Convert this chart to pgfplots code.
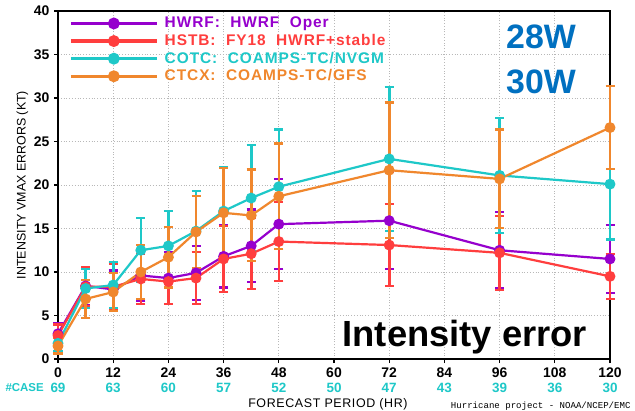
\documentclass[border=0pt]{standalone}
\usepackage{pgfplots}
\usepackage{pgfplotstable}
\pgfplotsset{compat=1.18}
\usetikzlibrary{arrows.meta}
\usepackage{fontspec}
\setmainfont{Liberation Sans}
\newfontfamily\monofont{Liberation Mono}

\definecolor{hwrf}{RGB}{150,0,205}
\definecolor{hstb}{RGB}{255,62,62}
\definecolor{cotc}{RGB}{30,200,200}
\definecolor{ctcx}{RGB}{240,135,45}
\definecolor{annot}{RGB}{0,112,192}

% forecast hour, mean error, error half-range
\pgfplotstableread{
x y e
0 2.9 1.3
6 8.4 2.3
12 8.0 2.3
18 9.6 3.0
24 9.3 3.1
30 9.9 3.2
36 11.8 3.7
42 13.0 4.3
48 15.5 5.3
72 15.9 5.7
96 12.5 4.5
120 11.5 4.0
}\hwrf
\pgfplotstableread{
x y e
0 2.7 1.4
6 8.3 2.4
12 8.3 2.8
18 9.2 3.0
24 8.9 2.7
30 9.3 3.1
36 11.5 3.9
42 12.1 4.2
48 13.5 4.7
72 13.1 4.8
96 12.2 4.4
120 9.5 2.7
}\hstb
\pgfplotstableread{
x y e
0 1.8 1.0
6 8.1 2.4
12 8.5 2.8
18 12.5 3.8
24 13.0 4.1
30 14.7 4.7
36 17.0 5.2
42 18.5 6.2
48 19.8 6.7
72 23.0 8.4
96 21.1 6.7
120 20.1 6.5
}\cotc
\pgfplotstableread{
x y e
0 1.5 1.0
6 6.9 2.3
12 7.7 2.3
18 10.0 3.2
24 11.7 3.6
30 14.6 4.3
36 16.8 5.3
42 16.5 5.4
48 18.7 6.2
72 21.7 7.9
96 20.7 5.8
120 26.6 4.9
}\ctcx

\pgfplotsset{
  % mean error: line with filled dots
  model/.style={color=#1, line width=2.2bp, mark=*, mark size=4.3bp,
    mark options={solid, fill=#1, draw=#1}},
  % spread: capped vertical bar from y-e to y+e
  spread/.style={color=#1, line width=2.6bp, mark=none, forget plot,
    {Bar[width=9bp, line width=2.2bp]}-{Bar[width=9bp, line width=2.2bp]},
    quiver={u=0, v=2*\thisrow{e}}},
}

\begin{document}
\begin{tikzpicture}
\path[use as bounding box, fill=white] (-58bp,-52bp) rectangle (577bp,359bp);
\begin{axis}[
  at={(0,0)}, anchor=south west,
  scale only axis, width=552bp, height=348bp,
  xmin=0, xmax=120, ymin=0, ymax=40,
  xtick={0,12,...,120}, ytick={0,5,...,40},
  clip=false,
  axis line style={black, line width=1.5bp},
  tick align=outside, major tick length=4bp,
  tick style={black, line width=1.2bp},
  xtick pos=bottom, ytick pos=left,
  grid=major,
  major grid style={draw=black!28, line width=0.8bp, dotted},
  /pgf/number format/assume math mode=true,
  tick label style={font=\fontsize{14}{14}\selectfont\bfseries},
  yticklabel style={xshift=-1bp},
  xticklabel style={yshift=-1bp},
  ylabel={INTENSITY VMAX ERRORS (KT)},
  ylabel style={font=\fontsize{12.5}{12.5}\selectfont, yshift=-1bp},
  legend cell align=left,
  legend style={
    at={(rel axis cs:0.02,0.99)}, anchor=north west,
    draw=none, fill=none, inner sep=0pt,
    font=\fontsize{15.5}{15.5}\selectfont\bfseries\addfontfeatures{LetterSpace=6},
    nodes={inner sep=1.3bp, text height=12bp, text depth=3bp},
    row sep=0pt, column sep=5bp,
  },
  legend image code/.code={
    \draw[mark repeat=2, mark phase=2, line width=3.2bp]
      plot coordinates {(0bp,0bp) (43bp,0bp) (86bp,0bp)};
  },
]
\addplot[spread=hwrf] table[x=x, y expr=\thisrow{y}-\thisrow{e}]{\hwrf};
\addplot[model=hwrf] table[x=x, y=y]{\hwrf};
\addlegendentry{\textcolor{hwrf}{HWRF:\ \ HWRF\ \ Oper}}
\addplot[spread=hstb] table[x=x, y expr=\thisrow{y}-\thisrow{e}]{\hstb};
\addplot[model=hstb] table[x=x, y=y]{\hstb};
\addlegendentry{\textcolor{hstb}{HSTB:\ \ FY18\ \ HWRF+stable}}
\addplot[spread=cotc] table[x=x, y expr=\thisrow{y}-\thisrow{e}]{\cotc};
\addplot[model=cotc] table[x=x, y=y]{\cotc};
\addlegendentry{\textcolor{cotc}{COTC:\ \ COAMPS-TC/NVGM}}
\addplot[spread=ctcx] table[x=x, y expr=\thisrow{y}-\thisrow{e}]{\ctcx};
\addplot[model=ctcx] table[x=x, y=y]{\ctcx};
\addlegendentry{\textcolor{ctcx}{CTCX:\ \ COAMPS-TC/GFS}}

% storm labels and panel title
\node[text=annot, font=\fontsize{34}{34}\selectfont\bfseries] at (rel axis cs:0.875,0.925) {28W};
\node[text=annot, font=\fontsize{34}{34}\selectfont\bfseries] at (rel axis cs:0.875,0.796) {30W};
\node[anchor=base, font=\fontsize{36.5}{36.5}\selectfont\bfseries] at (rel axis cs:0.737,0.0345) {Intensity error};

% number of cases at each verification time
\begin{scope}[every node/.style={text=cotc, font=\fontsize{13.5}{13.5}\selectfont\bfseries, yshift=-29bp}]
\node[anchor=west, font=\fontsize{11.5}{11.5}\selectfont\bfseries] at (axis cs:0,0) [xshift=-56bp] {\#CASE};
\node at (axis cs:0,0) {69};
\node at (axis cs:12,0) {63};
\node at (axis cs:24,0) {60};
\node at (axis cs:36,0) {57};
\node at (axis cs:48,0) {52};
\node at (axis cs:60,0) {50};
\node at (axis cs:72,0) {47};
\node at (axis cs:84,0) {43};
\node at (axis cs:96,0) {39};
\node at (axis cs:108,0) {36};
\node at (axis cs:120,0) {30};
\end{scope}
\node[font=\fontsize{12.5}{12.5}\selectfont\addfontfeatures{LetterSpace=5}] at (rel axis cs:0.489,0) [yshift=-45bp] {FORECAST PERIOD (HR)};
\node[anchor=east, font=\monofont\fontsize{9.1}{9.1}\selectfont] at (rel axis cs:1,0) [xshift=24bp, yshift=-47bp] {Hurricane project - NOAA/NCEP/EMC};
\end{axis}
\end{tikzpicture}
\end{document}
